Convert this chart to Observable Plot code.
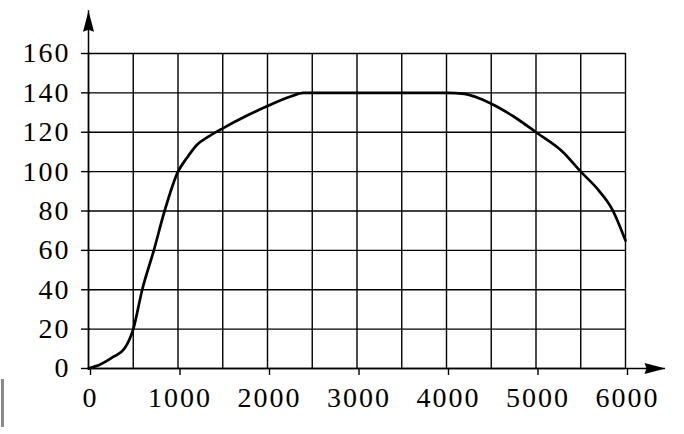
<!DOCTYPE html>
<html>
<head>
<meta charset="utf-8">
<script src="https://cdn.jsdelivr.net/npm/d3@7"></script>
<script src="https://cdn.jsdelivr.net/npm/@observablehq/plot@0.6"></script>
<style>
  html, body { margin: 0; padding: 0; background: #fff; }
  #chart { position: relative; width: 684px; height: 434px; }
  #cursor { position: absolute; left: 1px; top: 379px; width: 3px; height: 48px; background: #8a8a8a; }
</style>
</head>
<body>
<div id="chart"><div id="cursor"></div></div>
<script>
// Curve values
const xValues = [0, 130, 280, 400, 500, 600, 730, 850, 1000, 1100, 1210, 1350, 1500, 1750, 2000, 2250, 2400, 3000, 3500, 4000, 4200, 4500, 4750, 5000, 5300, 5500, 5700, 5850, 6000];
const yValues = [0, 2, 6, 10, 20, 40, 60, 80, 100, 107, 113.5, 118, 122, 128, 133.3, 138, 140, 140, 140, 140, 139.5, 134.5, 128, 120, 110, 100, 90.5, 81, 65];

// Tick labels and grid
const xTickLabels = [0, 1000, 2000, 3000, 4000, 5000, 6000];
const yTickLabels = [0, 20, 40, 60, 80, 100, 120, 140, 160];
const xGridValues = [0, 500, 1000, 1500, 2000, 2500, 3000, 3500, 4000, 4500, 5000, 5500, 6000];

// Axis arrow extents (data units)
const xAxisEnd = 6447;
const yAxisEnd = 181.7;

const data = xValues.map((x, i) => ({x, y: yValues[i]}));

// Elongated filled arrowhead, tip at origin pointing up
const arrowHead = {
  draw(context) {
    context.moveTo(0, 0);
    context.lineTo(5.5, 21);
    context.lineTo(0, 19);
    context.lineTo(-5.5, 21);
    context.closePath();
  }
};

const font = "'Liberation Serif', 'Times New Roman', serif";

const chart = Plot.plot({
  width: 684,
  height: 434,
  marginLeft: 88,
  marginRight: 59,
  marginTop: 53,
  marginBottom: 66,
  style: {fontFamily: font, fontSize: "28px", letterSpacing: "2px", color: "#000", background: "#fff", overflow: "visible"},
  x: {domain: [0, 6000], label: null},
  y: {domain: [0, 160], label: null},
  marks: [
    Plot.ruleX(xGridValues, {x: d => d, y1: 0, y2: 160, stroke: "#000", strokeWidth: 1.4}),
    Plot.ruleY(yTickLabels, {y: d => d, x1: 0, x2: 6000, stroke: "#000", strokeWidth: 1.4}),
    Plot.ruleX([0], {y1: 0, y2: yAxisEnd, stroke: "#000", strokeWidth: 1.5}),
    Plot.ruleY([0], {x1: 0, x2: xAxisEnd, stroke: "#000", strokeWidth: 1.5}),
    Plot.dot([{x: 0, y: yAxisEnd}], {x: "x", y: "y", symbol: arrowHead, fill: "#000", stroke: "none", rotate: 0}),
    Plot.dot([{x: xAxisEnd, y: 0}], {x: "x", y: "y", symbol: arrowHead, fill: "#000", stroke: "none", rotate: 90}),
    Plot.axisX(xTickLabels, {label: null, tickSize: 7, tickPadding: 12, fontSize: 28, stroke: "#000", strokeWidth: 1.4, tickFormat: d => String(d), dx: 2}),
    Plot.axisY(yTickLabels, {label: null, tickSize: 9, tickPadding: 11, fontSize: 28, stroke: "#000", strokeWidth: 1.4, tickFormat: d => String(d), dx: 2}),
    Plot.line(data, {x: "x", y: "y", curve: "monotone-x", stroke: "#000", strokeWidth: 2.7})
  ]
});
document.getElementById("chart").appendChild(chart);
</script>
</body>
</html>
